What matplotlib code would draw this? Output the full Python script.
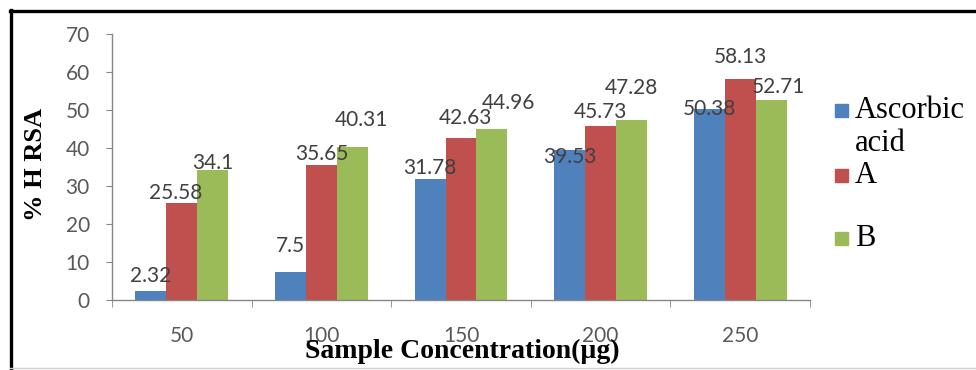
import matplotlib
matplotlib.use("Agg")
import matplotlib.pyplot as plt
from matplotlib.patches import Rectangle
from matplotlib.lines import Line2D

# data
categories = ["50", "100", "150", "200", "250"]
series_names = ["Ascorbic acid", "A", "B"]
ascorbic = [2.32, 7.5, 31.78, 39.53, 50.38]
sample_a = [25.58, 35.65, 42.63, 45.73, 58.13]
sample_b = [34.1, 40.31, 44.96, 47.28, 52.71]
values = [ascorbic, sample_a, sample_b]

colors = ["#4F81BD", "#C0504D", "#9BBB59"]
# label nudges in pixels (dx, dy of the label centre from the bar top)
label_dx = [[0, 0, 0, 0, 0], [-6, 0, 4, 0, 0], [0, 9, 16, 0, 7]]
label_dy = [[15, 26, 11, -7, 0], [10, 11, 20, 14, 22], [7, 27, 26, 32, 13]]

W, H = 976, 370
fig = plt.figure(figsize=(W / 100, H / 100), dpi=100)
ax = fig.add_axes([112 / W, 1 - 300 / H, (810 - 112) / W, (300 - 34) / H])

bw = 0.222
x = list(range(len(categories)))
for k, (vals, col) in enumerate(zip(values, colors)):
    pos = [i + (k - 1) * bw for i in x]
    ax.bar(pos, vals, width=bw, color=col, zorder=2)
    for j, (p, v) in enumerate(zip(pos, vals)):
        ax.annotate(f"{v:g}", xy=(p, v), xytext=(label_dx[k][j], label_dy[k][j]),
                    textcoords="offset pixels", ha="center", va="center",
                    fontsize=15, family="Lato", color="#404040", zorder=3)

ax.set_xlim(-0.5, len(categories) - 0.5)
ax.set_ylim(0, 70)
ax.set_yticks(range(0, 71, 10))
ax.set_xticks(x)
ax.set_xticklabels(categories)
ax.set_xticks([i - 0.5 for i in range(len(categories) + 1)], minor=True)

for s in ["top", "right"]:
    ax.spines[s].set_visible(False)
for s in ["left", "bottom"]:
    ax.spines[s].set_color("#868686")
    ax.spines[s].set_linewidth(1.0)

ax.tick_params(axis="y", direction="out", length=4, color="#868686", pad=12,
               labelsize=15, labelcolor="#595959")
ax.tick_params(axis="x", which="major", length=0, pad=19, labelsize=15,
               labelcolor="#595959")
ax.tick_params(axis="x", which="minor", direction="out", length=5, color="#868686")
for lab in ax.get_xticklabels() + ax.get_yticklabels():
    lab.set_family("Lato")

# axis titles
fig.text(462 / W, 1 - 351 / H, "Sample Concentration(µg)", ha="center", va="center",
         family="Liberation Serif", weight="bold", fontsize=20)
fig.text(36 / W, 1 - 164 / H, "% H RSA", ha="center", va="center", rotation=90,
         family="Liberation Serif", weight="bold", fontsize=19)

# legend drawn by hand (Excel wrapped the first entry)
leg_text = ["Ascorbic\nacid", "A", "B"]
leg_y = [110, 175, 238]
for name, col, yy in zip(leg_text, colors, leg_y):
    fig.add_artist(Rectangle((835 / W, 1 - (yy + 6.5) / H), 13 / W, 13 / H,
                             transform=fig.transFigure, color=col))
    fig.text(855 / W, 1 - (yy - 14) / H, name, ha="left", va="top",
             family="Liberation Serif", fontsize=22, color="#000000",
             linespacing=1.2)

# outer frame
fig.add_artist(Line2D([10 / W, 1], [1 - 11 / H, 1 - 11 / H], color="black", lw=2.4,
                      transform=fig.transFigure))
fig.add_artist(Line2D([11 / W, 11 / W], [0, 1 - 10 / H], color="black", lw=2.4,
                      transform=fig.transFigure))
fig.add_artist(Line2D([10 / W, 1], [1 - 368 / H, 1 - 368 / H], color="#d0d0d0", lw=1,
                      transform=fig.transFigure))

fig.savefig("out.png", dpi=100)
